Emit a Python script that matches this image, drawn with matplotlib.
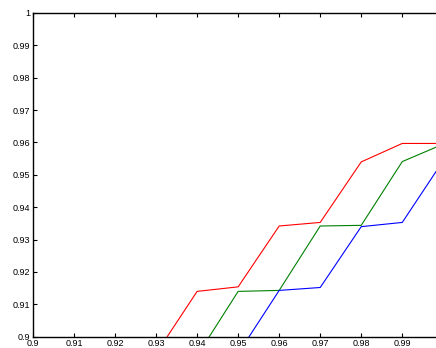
import matplotlib
matplotlib.use('Agg')
import matplotlib.pyplot as plt
from matplotlib.ticker import FuncFormatter

# three curves, each one step (0.01) behind the previous
x_red = [0.93, 0.94, 0.95, 0.96, 0.97, 0.98, 0.99, 1.00]
y_red = [0.8948, 0.9140, 0.9154, 0.9342, 0.9353, 0.9540, 0.9597, 0.9597]
x_green = [0.94, 0.95, 0.96, 0.97, 0.98, 0.99, 1.00]
y_green = [0.8941, 0.9140, 0.9143, 0.9342, 0.9344, 0.9541, 0.9595]
x_blue = [0.95, 0.96, 0.97, 0.98, 0.99, 1.00]
y_blue = [0.8948, 0.9143, 0.9152, 0.9340, 0.9353, 0.9544]

xticks = [0.9, 0.91, 0.92, 0.93, 0.94, 0.95, 0.96, 0.97, 0.98, 0.99]
yticks = [0.9, 0.91, 0.92, 0.93, 0.94, 0.95, 0.96, 0.97, 0.98, 0.99, 1.0]

plt.rcParams['font.family'] = ['Liberation Sans', 'DejaVu Sans']
fig = plt.figure(figsize=(4.36, 3.48), dpi=100)
ax = fig.add_axes([33/436, 11.3/348, 410.3/436, 323.7/348])

ax.plot(x_red, y_red, color=(1, 0, 0), lw=0.8)
ax.plot(x_green, y_green, color=(0, 0.5, 0), lw=0.8)
ax.plot(x_blue, y_blue, color=(0, 0, 1), lw=0.8)

ax.set_xlim(0.9, 1.0)
ax.set_ylim(0.9, 1.0)
ax.set_xticks(xticks)
ax.set_yticks(yticks)
fmt = FuncFormatter(lambda v, p: '%g' % round(v, 2))
ax.xaxis.set_major_formatter(fmt)
ax.yaxis.set_major_formatter(fmt)
ax.tick_params(direction='in', length=3, width=0.8, labelsize=6.5,
               top=True, right=True, pad=2, colors='black')
for s in ax.spines.values():
    s.set_linewidth(1.0)

fig.savefig('out.png', dpi=100)
